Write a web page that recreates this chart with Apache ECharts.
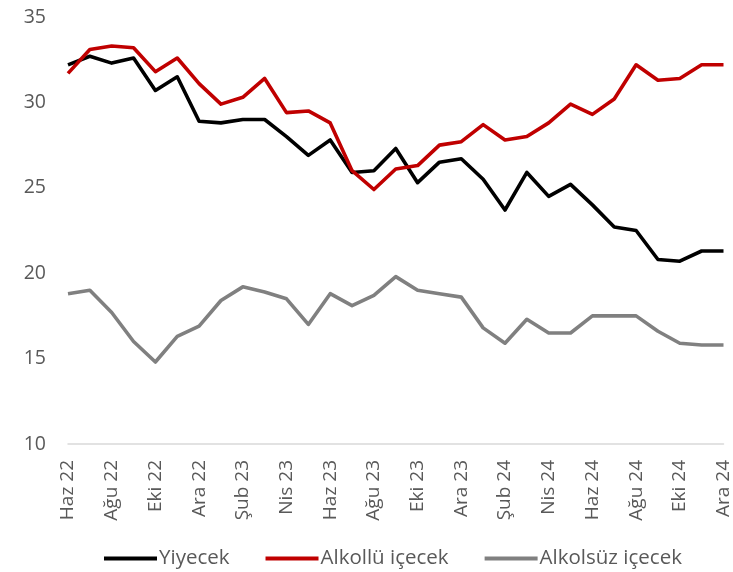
<!DOCTYPE html>
<html>
<head>
<meta charset="utf-8">
<script src="https://cdn.jsdelivr.net/npm/echarts@6/dist/echarts.min.js"></script>
<style>
  html, body { margin: 0; padding: 0; background: #fff; }
  #chart { width: 733px; height: 572px; }
</style>
</head>
<body>
<div id="chart"></div>
<script>
  // aylar: Haz 22 .. Ara 24
  const months = ['Haz 22','Tem 22','Ağu 22','Eyl 22','Eki 22','Kas 22','Ara 22','Oca 23','Şub 23','Mar 23','Nis 23','May 23',
    'Haz 23','Tem 23','Ağu 23','Eyl 23','Eki 23','Kas 23','Ara 23','Oca 24','Şub 24','Mar 24','Nis 24','May 24',
    'Haz 24','Tem 24','Ağu 24','Eyl 24','Eki 24','Kas 24','Ara 24']
  const yiyecek = [32.2,32.7,32.3,32.6,30.7,31.5,28.9,28.8,29.0,29.0,28.0,26.9,27.8,25.9,26.0,27.3,25.3,26.5,26.7,25.5,23.7,25.9,24.5,25.2,24.0,22.7,22.5,20.8,20.7,21.3,21.3]
  const alkollu = [31.7,33.1,33.3,33.2,31.8,32.6,31.1,29.9,30.3,31.4,29.4,29.5,28.8,26.0,24.9,26.1,26.3,27.5,27.7,28.7,27.8,28.0,28.8,29.9,29.3,30.2,32.2,31.3,31.4,32.2,32.2]
  const alkolsuz = [18.8,19.0,17.7,16.0,14.8,16.3,16.9,18.4,19.2,18.9,18.5,17.0,18.8,18.1,18.7,19.8,19.0,18.8,18.6,16.8,15.9,17.3,16.5,16.5,17.5,17.5,17.5,16.6,15.9,15.8,15.8]

  const chart = echarts.init(document.getElementById('chart'))
  const font = 'Open Sans'
  const mkLine = (name, data, color) => ({
    name: name,
    type: 'line',
    data: data,
    symbol: 'none',
    lineStyle: { width: 3.6, color: color, join: 'round' },
    itemStyle: { color: color }
  })
  const option = {
    animation: false,
    grid: { left: 68, right: 8, top: 17, bottom: 128 },
    legend: {
      top: 543,
      left: 99,
      icon: 'rect',
      itemWidth: 53,
      itemHeight: 4,
      itemGap: 36,
      textStyle: { fontFamily: font, fontSize: 20.5, color: '#595959', padding: [0, 0, 0, -3] },
      data: ['Yiyecek', 'Alkollü içecek', 'Alkolsüz içecek']
    },
    xAxis: {
      type: 'category',
      boundaryGap: false,
      data: months,
      axisLine: { lineStyle: { color: '#d9d9d9', width: 1.5 } },
      axisTick: { show: false },
      axisLabel: {
        interval: 1,
        rotate: 90,
        fontFamily: font,
        fontSize: 19,
        color: '#595959',
        margin: 16
      }
    },
    yAxis: {
      type: 'value',
      min: 10,
      max: 35,
      interval: 5,
      splitLine: { show: false },
      axisLine: { show: false },
      axisTick: { show: false },
      axisLabel: { fontFamily: font, fontSize: 19.5, color: '#595959', margin: 22 }
    },
    series: [
      mkLine('Yiyecek', yiyecek, '#000000'),
      mkLine('Alkollü içecek', alkollu, '#c00000'),
      mkLine('Alkolsüz içecek', alkolsuz, '#808080')
    ]
  }
  chart.setOption(option)
</script>
</body>
</html>
